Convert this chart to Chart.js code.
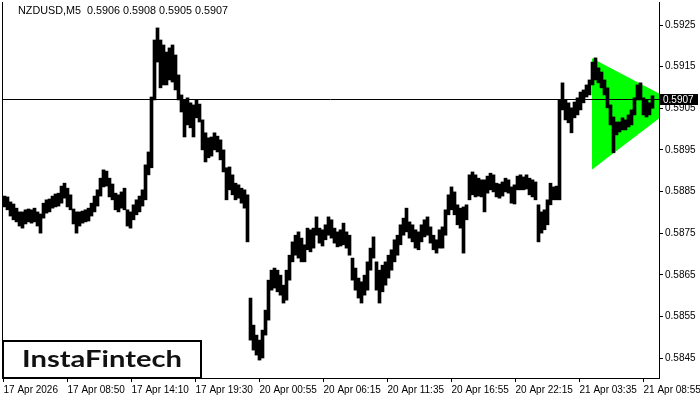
<!DOCTYPE html>
<html><head><meta charset="utf-8">
<script src="https://cdn.jsdelivr.net/npm/chart.js@4/dist/chart.umd.min.js"></script>
<style>html,body{margin:0;padding:0;background:#fff}canvas{display:block}</style>
</head><body>
<canvas id="c" width="700" height="400"></canvas>
<script>
const symbol = 'NZDUSD,M5';
const lastBar = [0.5906, 0.5908, 0.5905, 0.5907]; // open, high, low, close
const barsPerColumn = 3; // each drawn column groups 3 M5 bars
const highs = [
0.58839,0.58837,0.58825,0.58820,0.58810,0.58801,0.58801,0.58806,0.58808,0.58806,
0.58810,0.58801,0.58796,0.58822,0.58830,0.58832,0.58839,0.58844,0.58846,0.58863,
0.58870,0.58858,0.58842,0.58808,0.58801,0.58801,0.58803,0.58806,0.58810,0.58822,
0.58839,0.58854,0.58882,0.58902,0.58899,0.58882,0.58868,0.58846,0.58842,0.58849,
0.58858,0.58806,0.58801,0.58818,0.58830,0.58839,0.58854,0.58914,0.58945,0.59077,
0.59214,0.59243,0.59214,0.59202,0.59185,0.59195,0.59202,0.59178,0.59130,0.59082,
0.59070,0.59075,0.59063,0.59058,0.59070,0.59060,0.59022,0.58991,0.58979,0.58981,
0.58991,0.58983,0.58974,0.58950,0.58907,0.58909,0.58890,0.58870,0.58866,0.58858,
0.58854,0.58842,0.58594,0.58529,0.58505,0.58493,0.58517,0.58565,0.58637,0.58661,
0.58666,0.58661,0.58649,0.58625,0.58661,0.58697,0.58729,0.58745,0.58753,0.58738,
0.58722,0.58762,0.58758,0.58762,0.58789,0.58762,0.58758,0.58770,0.58789,0.58782,
0.58762,0.58753,0.58758,0.58774,0.58753,0.58745,0.58690,0.58666,0.58642,0.58633,
0.58649,0.58681,0.58714,0.58741,0.58681,0.58661,0.58673,0.58681,0.58697,0.58710,
0.58734,0.58745,0.58770,0.58786,0.58810,0.58777,0.58770,0.58758,0.58753,0.58770,
0.58782,0.58789,0.58765,0.58745,0.58734,0.58758,0.58765,0.58806,0.58842,0.58861,
0.58849,0.58818,0.58810,0.58813,0.58818,0.58890,0.58897,0.58890,0.58882,0.58878,
0.58878,0.58887,0.58894,0.58890,0.58870,0.58868,0.58873,0.58882,0.58878,0.58861,
0.58866,0.58887,0.58890,0.58885,0.58890,0.58882,0.58878,0.58873,0.58818,0.58801,
0.58806,0.58830,0.58870,0.58861,0.58863,0.59070,0.59111,0.59070,0.59063,0.59051,
0.59065,0.59075,0.59089,0.59094,0.59106,0.59118,0.59161,0.59171,0.59147,0.59137,
0.59118,0.59099,0.59058,0.59029,0.59017,0.59017,0.59027,0.59022,0.59034,0.59046,
0.59075,0.59106,0.59111,0.59075,0.59070,0.59063,0.59080
];
const lows = [
0.58813,0.58806,0.58791,0.58782,0.58777,0.58767,0.58762,0.58772,0.58777,0.58774,
0.58777,0.58767,0.58750,0.58786,0.58798,0.58801,0.58810,0.58813,0.58815,0.58822,
0.58834,0.58813,0.58806,0.58772,0.58750,0.58767,0.58774,0.58777,0.58779,0.58791,
0.58801,0.58815,0.58839,0.58861,0.58863,0.58837,0.58830,0.58806,0.58801,0.58810,
0.58806,0.58767,0.58762,0.58782,0.58794,0.58801,0.58815,0.58830,0.58890,0.58907,
0.59070,0.59161,0.59099,0.59106,0.59106,0.59118,0.59113,0.59094,0.59070,0.59041,
0.58981,0.59010,0.59003,0.58981,0.59027,0.59017,0.58950,0.58921,0.58931,0.58935,
0.58950,0.58945,0.58926,0.58897,0.58830,0.58854,0.58842,0.58830,0.58834,0.58822,
0.58810,0.58729,0.58493,0.58469,0.58457,0.58445,0.58450,0.58505,0.58541,0.58613,
0.58618,0.58609,0.58601,0.58582,0.58589,0.58637,0.58681,0.58697,0.58690,0.58681,
0.58681,0.58710,0.58705,0.58714,0.58745,0.58726,0.58719,0.58734,0.58745,0.58738,
0.58726,0.58717,0.58719,0.58722,0.58714,0.58697,0.58637,0.58613,0.58594,0.58582,
0.58601,0.58613,0.58661,0.58690,0.58613,0.58582,0.58609,0.58625,0.58642,0.58661,
0.58681,0.58697,0.58722,0.58745,0.58753,0.58738,0.58729,0.58714,0.58710,0.58729,
0.58741,0.58745,0.58726,0.58710,0.58702,0.58714,0.58714,0.58745,0.58794,0.58806,
0.58794,0.58770,0.58762,0.58702,0.58782,0.58830,0.58842,0.58837,0.58839,0.58837,
0.58801,0.58846,0.58854,0.58849,0.58837,0.58834,0.58839,0.58849,0.58846,0.58822,
0.58820,0.58854,0.58854,0.58854,0.58856,0.58842,0.58837,0.58830,0.58729,0.58750,
0.58758,0.58770,0.58818,0.58830,0.58830,0.58830,0.59046,0.59022,0.59015,0.58991,
0.59027,0.59034,0.59046,0.59063,0.59077,0.59082,0.59106,0.59118,0.59111,0.59099,
0.59082,0.59051,0.59010,0.58943,0.58986,0.58993,0.58998,0.58998,0.59005,0.59010,
0.59034,0.59070,0.59070,0.59034,0.59029,0.59034,0.59050
];
const xTickBars = [0,64,128,192,256,320,384,448,512,576,640];
const xTickLabels = ['17 Apr 2026','17 Apr 08:50','17 Apr 14:10','17 Apr 19:30','20 Apr 00:55','20 Apr 06:15','20 Apr 11:35','20 Apr 16:55','20 Apr 22:15','21 Apr 03:35','21 Apr 08:55'];
const yTicks = [0.5845,0.5855,0.5865,0.5875,0.5885,0.5895,0.5905,0.5915,0.5925];
const triangleBars = [588.5, 675];
const triangleUpper = [0.59170, 0.59061];
const triangleLower = [0.58903, 0.59061];
const brandText = 'InstaFintech';

const FONT = '"Liberation Sans", Arial, sans-serif';
Chart.defaults.font.family = FONT;
Chart.defaults.font.size = 10;
Chart.defaults.color = '#000';

const barData = highs.map((h, k) => ({x: k * barsPerColumn + 1, y: [lows[k], h]}));
const close = lastBar[3];

const overlay = {
  id: 'overlay',
  afterDatasetsDraw(chart) {
    // crisp close-price line through the y scale
    const ctx = chart.ctx, a = chart.chartArea;
    const py = Math.round(chart.scales.y.getPixelForValue(close)) - 0.5;
    ctx.save();
    ctx.strokeStyle = '#000';
    ctx.lineWidth = 1;
    ctx.beginPath();
    ctx.moveTo(a.left, py);
    ctx.lineTo(a.right, py);
    ctx.stroke();
    ctx.restore();
  },
  afterDraw(chart) {
    const ctx = chart.ctx;
    const ys = chart.scales.y;
    ctx.save();
    // header
    ctx.font = '10.8px ' + FONT;
    ctx.fillStyle = '#000';
    ctx.textBaseline = 'middle';
    ctx.textAlign = 'left';
    ctx.fillText(symbol + '  ' + lastBar.map(v => v.toFixed(4)).join(' '), 18, 11);
    // current price tag
    ctx.font = '10px ' + FONT;
    const py = Math.round(ys.getPixelForValue(close));
    ctx.fillStyle = '#000';
    ctx.fillRect(660, py - 6, 38, 11);
    ctx.fillStyle = '#fff';
    ctx.fillText(close.toFixed(4), 663, py);
    // brand box
    ctx.fillStyle = '#fff';
    ctx.fillRect(3, 341, 198, 37);
    ctx.strokeStyle = '#000';
    ctx.lineWidth = 2;
    ctx.strokeRect(3, 341, 198, 37);
    ctx.font = 'bold 23px Lato, "Open Sans", sans-serif';
    ctx.fillStyle = '#111';
    ctx.textBaseline = 'alphabetic';
    const w = ctx.measureText(brandText).width;
    ctx.translate(22, 367);
    ctx.scale(160 / w, 1);
    ctx.fillText(brandText, 0, 0);
    ctx.restore();
  }
};

new Chart(document.getElementById('c'), {
  type: 'bar',
  data: {
    datasets: [
      {
        type: 'bar', yAxisID: 'y', order: 1,
        data: barData,
        backgroundColor: '#000', borderWidth: 0, borderSkipped: false,
        barPercentage: 1, categoryPercentage: 1
      },
      {
        type: 'line', yAxisID: 'y', order: 5,
        data: triangleBars.map((b, i) => ({x: b, y: triangleUpper[i]})),
        borderWidth: 0, borderColor: 'rgba(0,0,0,0)', pointRadius: 0, fill: false
      },
      {
        type: 'line', yAxisID: 'y', order: 4,
        data: triangleBars.map((b, i) => ({x: b, y: triangleLower[i]})),
        borderWidth: 0, borderColor: 'rgba(0,0,0,0)', pointRadius: 0,
        fill: '-1', backgroundColor: '#00ff00'
      }
    ]
  },
  options: {
    responsive: false, animation: false, devicePixelRatio: 1, events: [],
    layout: {padding: {left: 2, top: 2, right: 0, bottom: 0}},
    plugins: {legend: {display: false}, tooltip: {enabled: false}},
    scales: {
      x: {
        type: 'linear', position: 'bottom', min: -1.5, max: 655.5, offset: false,
        grid: {display: true, offset: false, drawOnChartArea: false, drawTicks: true, tickLength: 4, color: '#000'},
        border: {display: true, color: '#000', width: 1},
        ticks: {align: 'start', autoSkip: false, maxRotation: 0, minRotation: 0, padding: 2, color: '#000',
          callback: (v, i) => xTickLabels[i]},
        afterBuildTicks: s => { s.ticks = xTickBars.map(v => ({value: v})); },
        afterFit: s => { s.height = 22; s.paddingLeft = 0; s.paddingRight = 0; }
      },
      y: {
        type: 'linear', axis: 'y', position: 'right',
        min: 0.5925 - 353 / 41625, max: 0.5925 + 23 / 41625,
        grid: {display: true, drawOnChartArea: false, drawTicks: true, tickLength: 4, color: '#000'},
        border: {display: true, color: '#000', width: 1},
        ticks: {padding: 2, color: '#000', callback: v => Number(v).toFixed(4)},
        afterBuildTicks: s => { s.ticks = yTicks.map(v => ({value: v})); },
        afterFit: s => { s.width = 41; s.paddingTop = 0; s.paddingBottom = 0; }
      },
      yL: {
        type: 'linear', axis: 'y', position: 'left', display: true,
        grid: {display: false, drawTicks: false},
        ticks: {display: false},
        border: {display: true, color: '#000', width: 1},
        afterFit: s => { s.width = 0; s.paddingTop = 0; s.paddingBottom = 0; }
      }
    }
  },
  plugins: [overlay]
});
</script>
</body></html>
